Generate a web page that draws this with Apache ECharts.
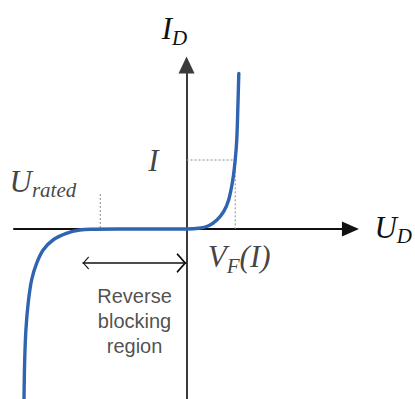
<!DOCTYPE html>
<html>
<head>
<meta charset="utf-8">
<script src="https://cdn.jsdelivr.net/npm/echarts@6/dist/echarts.min.js"></script>
<style>
  html, body { margin: 0; padding: 0; background: #fff; }
  #chart { width: 415px; height: 399px; }
</style>
</head>
<body>
<div id="chart"></div>
<script>
// Diode static characteristic: forward conduction and reverse blocking branches
const voltage = [-9.42, -9.38, -9.31, -9.18, -8.98, -8.69, -8.31, -7.74, -6.97, -6.2, -5.4, -4, -2, 0,
                 0.71, 1.28, 1.76, 2.15, 2.44, 2.68, 2.82, 2.91, 2.97, 3.03];
const current = [-8.5, -6.55, -5.05, -3.72, -2.55, -1.72, -1.05, -0.55, -0.22, -0.05, -0.01, 0, 0, 0,
                 0.035, 0.165, 0.45, 0.865, 1.45, 2.45, 3.45, 4.45, 5.95, 7.78];

// Operating point (V_F at current I) and rated reverse voltage marker
const forwardPoint = [2.82, 3.45];
const ratedVoltage = [-5, 1.75];

// Reverse blocking region span on the voltage axis, drawn at this current level
const blockingSpan = [-6.03, 0];
const blockingLevel = -1.7;

// Axis ranges
const xRange = [-10, 9.5];
const yRange = [-8.5, 8.2];

const serif = 'Liberation Serif';
const rich = {
  m: { fontFamily: serif, fontStyle: 'italic', fontSize: 31, lineHeight: 31, verticalAlign: 'top', color: '#111' },
  s: { fontFamily: serif, fontStyle: 'italic', fontSize: 21, lineHeight: 21, verticalAlign: 'top', color: '#111', padding: [14, 0, 0, 0] }
};

// Open arrow head; the empty sub-path balances the box so the tip sits on the line end
const chevron = 'path://M50,-100 L50.01,-100 Z M50,0 L100,86 L92,96 L50,22 L8,96 L0,86 Z';

const curve = voltage.map((v, i) => [v, current[i]]);

const chart = echarts.init(document.getElementById('chart'), null, { renderer: 'svg' });

chart.setOption({
  animation: false,
  backgroundColor: '#fff',
  grid: { left: 14, right: 62, top: 65, bottom: 0, containLabel: false },
  xAxis: {
    type: 'value', min: xRange[0], max: xRange[1],
    name: '{m|U}{s|D}', nameLocation: 'end', nameGap: 24,
    nameTextStyle: { rich: rich, verticalAlign: 'middle', padding: [0, 0, 4, 0] },
    axisLine: { onZero: true, symbol: ['none', 'triangle'], symbolSize: [15, 17],
                lineStyle: { color: '#111', width: 2 } },
    axisTick: { show: false }, axisLabel: { show: false }, splitLine: { show: false }
  },
  yAxis: {
    type: 'value', min: yRange[0], max: yRange[1],
    name: '{m|I}{s|D}', nameLocation: 'end', nameGap: 21,
    nameTextStyle: { rich: rich, padding: [0, 24, 0, 0] },
    axisLine: { onZero: true, symbol: ['none', 'triangle'], symbolSize: [16, 17],
                lineStyle: { color: '#3a3a3a', width: 2 } },
    axisTick: { show: false }, axisLabel: { show: false }, splitLine: { show: false }
  },
  series: [
    {
      name: 'guideI', type: 'line', symbol: 'none', silent: true, z: 1,
      lineStyle: { color: '#8a8a8a', width: 1, type: [2, 2] },
      data: [[0, forwardPoint[1]], forwardPoint, [forwardPoint[0], 0]]
    },
    {
      name: 'guideRated', type: 'line', symbol: 'none', silent: true, z: 1,
      lineStyle: { color: '#8a8a8a', width: 1, type: [2, 2] },
      data: [ratedVoltage, [ratedVoltage[0], 0]]
    },
    {
      name: 'characteristic', type: 'line', symbol: 'none', smooth: 0.35, z: 3,
      lineStyle: { color: '#2f64b0', width: 3.4, cap: 'round', join: 'round' },
      data: curve
    },
    {
      name: 'blockingSpan', type: 'lines', coordinateSystem: 'cartesian2d', silent: true, z: 4,
      symbol: [chevron, chevron], symbolSize: [13, 20],
      lineStyle: { color: '#111', width: 1.5, type: 'solid', opacity: 1 },
      data: [{ coords: [[blockingSpan[0], blockingLevel], [blockingSpan[1], blockingLevel]] }]
    },
    {
      name: 'annotations', type: 'scatter', symbolSize: 0, silent: true, z: 4,
      label: { show: true, rich: rich },
      data: [
        { value: [0, forwardPoint[1]], label: { position: 'left', distance: 28, formatter: '{m|I}' } },
        { value: [forwardPoint[0], 0], label: { position: 'bottom', distance: 12, offset: [4, 0], formatter: '{m|V}{s|F}{m|(I)}' } },
        { value: ratedVoltage, label: { position: 'left', distance: 24, offset: [0, -13], formatter: '{m|U}{s|rated}' } },
        { value: [(blockingSpan[0] + blockingSpan[1]) / 2, blockingLevel],
          label: { position: 'bottom', distance: 20, formatter: 'Reverse\nblocking\nregion',
                   fontFamily: 'Liberation Sans', fontSize: 20, lineHeight: 25, color: '#222', align: 'center' } }
      ]
    }
  ]
});
</script>
</body>
</html>
